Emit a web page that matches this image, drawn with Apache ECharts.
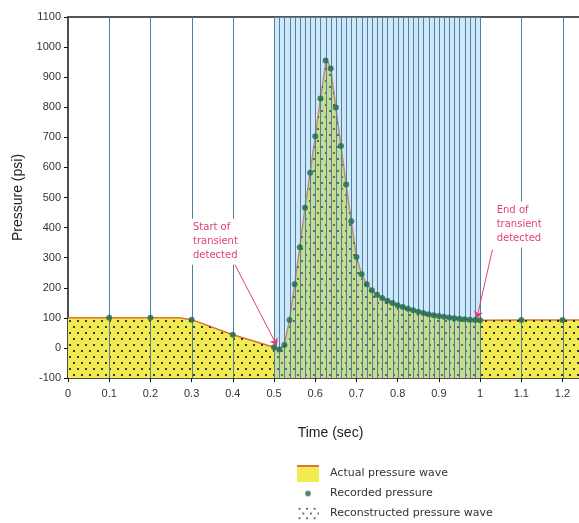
<!DOCTYPE html>
<html>
<head>
<meta charset="utf-8">
<script src="https://cdn.jsdelivr.net/npm/echarts@6.0.0/dist/echarts.min.js"></script>
<style>
html, body { margin: 0; padding: 0; background: #fff; }
#chart { width: 579px; height: 523px; }
</style>
</head>
<body>
<div id="chart"></div>
<script>
// sample instants (vertical lines) and the pressure recorded at each
const sampleTime = [0.1, 0.2, 0.3, 0.4,
	0.5, 0.5125, 0.525, 0.5375, 0.55, 0.5625, 0.575, 0.5875, 0.6, 0.6125,
	0.625, 0.6375, 0.65, 0.6625, 0.675, 0.6875, 0.7, 0.7125, 0.725, 0.7375,
	0.75, 0.7625, 0.775, 0.7875, 0.8, 0.8125, 0.825, 0.8375, 0.85, 0.8625,
	0.875, 0.8875, 0.9, 0.9125, 0.925, 0.9375, 0.95, 0.9625, 0.975, 0.9875, 1.0,
	1.1, 1.2];
const recordedPressure = [100, 100, 94, 44,
	2, -5, 10, 93, 212, 335, 466, 582, 704, 829,
	955, 929, 799, 671, 543, 421, 302, 245, 212, 192,
	177, 166, 157, 149, 142, 136, 130, 125, 120, 116,
	112, 109, 106, 104, 101, 99, 97, 95, 94, 93, 92,
	93, 93];

// the real pressure wave (orange line / yellow fill)
const actualTime = [0, 0.1, 0.2, 0.27, 0.3, 0.4, 0.5, 0.51, 0.525, 0.5375, 0.55, 0.5625,
	0.575, 0.5875, 0.6, 0.6125, 0.627, 0.6375, 0.65, 0.6625, 0.675, 0.6875, 0.7,
	0.7125, 0.725, 0.7375, 0.75, 0.775, 0.8, 0.825, 0.85, 0.875, 0.9, 0.925, 0.95,
	0.975, 1.0, 1.1, 1.2, 1.24];
const actualPressure = [100, 100, 100, 100, 94, 44, 2, -6, 10, 93, 212, 335,
	466, 582, 704, 829, 962, 929, 799, 671, 543, 421, 302,
	245, 212, 192, 177, 157, 142, 130, 120, 112, 106, 101, 97,
	94, 92, 93, 93, 93];

// reconstructed wave = recorded points, held out to the plot edges
const reconStart = [0, 100];
const reconEnd = [1.24, 93];

const transientWindow = [0.5, 1.0];

const xTicks = [0, 0.1, 0.2, 0.3, 0.4, 0.5, 0.6, 0.7, 0.8, 0.9, 1, 1.1, 1.2];
const xTickLabels = ['0', '0.1', '0.2', '0.3', '0.4', '0.5', '0.6', '0.7', '0.8', '0.9', '1', '1.1', '1.2'];
const yMin = -100, yMax = 1100, yStep = 100;
const xMax = 1.24;

// annotations: [text, anchor (left-middle of text), arrow from, arrow to]
const noteText = ['Start of\ntransient\ndetected', 'End of\ntransient\ndetected'];
const noteAnchor = [[0.296, 353], [1.033, 410]];
const arrowFrom = [[0.405, 277], [1.03, 327]];
const arrowTo = [[0.507, 8], [0.992, 98]];

const FONT = '"Liberation Sans", Arial, sans-serif';
const WIDE = '"DejaVu Sans", Verdana, sans-serif';
const YELLOW = '#f2ec52';
const ORANGE = '#d9733a';
const GREEN = '#1d6a4c';
const NOTE = '#e4406e';

function dotCanvas(w, h, bg) {
	let c = document.createElement('canvas');
	c.width = w; c.height = h;
	let g = c.getContext('2d');
	if (bg) { g.fillStyle = bg; g.fillRect(0, 0, w, h); }
	g.fillStyle = '#111';
	for (let y = 3, row = 0; y < h; y += 6, row++) {
		for (let x = (row % 2 ? 6 : 2); x < w; x += 8) {
			g.beginPath(); g.arc(x, y, 1.1, 0, Math.PI * 2); g.fill();
		}
	}
	return c;
}

function iconActual() {
	let c = document.createElement('canvas');
	c.width = 24; c.height = 18;
	let g = c.getContext('2d');
	g.fillStyle = YELLOW; g.fillRect(0, 1, 24, 17);
	g.fillStyle = ORANGE; g.fillRect(0, 0, 24, 2);
	return 'image://' + c.toDataURL();
}
function iconRecorded() {
	let c = document.createElement('canvas');
	c.width = 24; c.height = 18;
	let g = c.getContext('2d');
	g.fillStyle = GREEN; g.beginPath(); g.arc(12, 9, 3, 0, Math.PI * 2); g.fill();
	return 'image://' + c.toDataURL();
}
function iconRecon() {
	let c = document.createElement('canvas');
	c.width = 24; c.height = 18;
	let g = c.getContext('2d');
	g.fillStyle = '#1a1a1a';
	[[3, 4], [11, 4], [19, 4], [7, 9], [15, 9], [23, 9], [3, 14], [11, 14], [19, 14]].forEach(p => {
		g.beginPath(); g.arc(p[0], p[1], 0.9, 0, Math.PI * 2); g.fill();
	});
	return 'image://' + c.toDataURL();
}

let actualData = actualTime.map((t, i) => [t, actualPressure[i]]);
let recordedData = sampleTime.map((t, i) => [t, recordedPressure[i]]);
let reconData = [reconStart].concat(recordedData, [reconEnd]);

let chart = echarts.init(document.getElementById('chart'));
let option = {
	animation: false,
	textStyle: { fontFamily: FONT },
	grid: { left: 68, right: 0, top: 17, bottom: 145, outerBoundsMode: 'none' },
	legend: {
		orient: 'vertical', left: 296, top: 465, padding: 0,
		itemWidth: 24, itemHeight: 17, itemGap: 3,
		selectedMode: false,
		textStyle: { fontSize: 11, color: '#333', fontFamily: WIDE, padding: [0, 0, 0, 5] },
		data: [
			{ name: 'Actual pressure wave', icon: iconActual() },
			{ name: 'Recorded pressure', icon: iconRecorded() },
			{ name: 'Reconstructed pressure wave', icon: iconRecon() }
		]
	},
	xAxis: [{
		type: 'value', min: 0, max: xMax,
		name: 'Time (sec)', nameLocation: 'middle', nameGap: 48,
		nameTextStyle: { fontSize: 14, color: '#222', padding: [0, 0, 0, 14] },
		axisLine: { onZero: false, lineStyle: { color: '#111', width: 1.5 } },
		axisTick: { length: 4, lineStyle: { color: '#111' }, customValues: xTicks },
		axisLabel: {
			fontSize: 11, color: '#333', margin: 10, customValues: xTicks,
			formatter: v => xTickLabels[xTicks.indexOf(v)]
		},
		splitLine: { show: false }
	}, {
		type: 'value', min: 0, max: xMax, position: 'top',
		axisLine: { onZero: false, lineStyle: { color: '#555', width: 2 } },
		axisTick: { show: false }, axisLabel: { show: false }, splitLine: { show: false }
	}],
	yAxis: {
		type: 'value', min: yMin, max: yMax, interval: yStep,
		name: 'Pressure (psi)', nameLocation: 'middle', nameGap: 40,
		nameTextStyle: { fontSize: 14, color: '#222' },
		axisLine: { show: true, lineStyle: { color: '#111', width: 1.5 } },
		axisTick: { show: true, length: 4, lineStyle: { color: '#111' } },
		axisLabel: { fontSize: 11, color: '#333', margin: 7, formatter: v => String(v) },
		splitLine: { show: false }
	},
	series: [{
		name: 'Actual pressure wave',
		type: 'line', z: 2,
		data: actualData,
		showSymbol: false,
		itemStyle: { color: YELLOW },
		lineStyle: { color: ORANGE, width: 1.5 },
		areaStyle: { color: YELLOW, opacity: 1, origin: 'start' }
	}, {
		name: 'Reconstructed pressure wave',
		type: 'line', z: 3,
		data: reconData,
		showSymbol: false,
		lineStyle: { width: 0, opacity: 0 },
		areaStyle: { color: { image: dotCanvas(16, 12), repeat: 'repeat' }, opacity: 1, origin: 'start' }
	}, {
		name: 'transient',
		type: 'line', z: 4, data: [],
		markArea: {
			silent: true, z: 4,
			itemStyle: { color: 'rgba(130,195,240,0.38)' },
			data: [[{ coord: [transientWindow[0], yMin] }, { coord: [transientWindow[1], yMax] }]]
		}
	}, {
		name: 'samples',
		type: 'custom', z: 5, silent: true,
		data: sampleTime.map(t => [t]),
		encode: { x: 0 },
		renderItem: (params, api) => {
			let p0 = api.coord([api.value(0), yMin]);
			let p1 = api.coord([api.value(0), yMax]);
			let x = Math.round(p0[0]) + 0.5;
			return {
				type: 'line',
				shape: { x1: x, y1: p0[1], x2: x, y2: p1[1] },
				style: { stroke: '#4f7fa3', lineWidth: 1 }
			};
		}
	}, {
		name: 'notes',
		type: 'scatter', z: 6, data: [],
		markPoint: {
			silent: true, z: 6,
			symbol: 'rect', symbolSize: 0,
			label: {
				show: true, position: 'inside', align: 'left',
				formatter: p => p.value,
				color: NOTE, fontSize: 10, lineHeight: 14, fontFamily: WIDE,
				backgroundColor: '#fff', padding: [2, 3]
			},
			data: noteText.map((s, i) => ({ coord: noteAnchor[i], value: s }))
		},
		markLine: {
			silent: true, z: 6,
			symbol: ['none', 'arrow'], symbolSize: 7,
			lineStyle: { color: NOTE, width: 1, type: 'solid' },
			label: { show: false },
			data: arrowFrom.map((a, i) => [{ coord: a }, { coord: arrowTo[i] }])
		}
	}, {
		name: 'Recorded pressure',
		type: 'scatter', z: 7,
		data: recordedData,
		symbolSize: 6,
		itemStyle: { color: GREEN }
	}]
};
chart.setOption(option);
</script>
</body>
</html>
